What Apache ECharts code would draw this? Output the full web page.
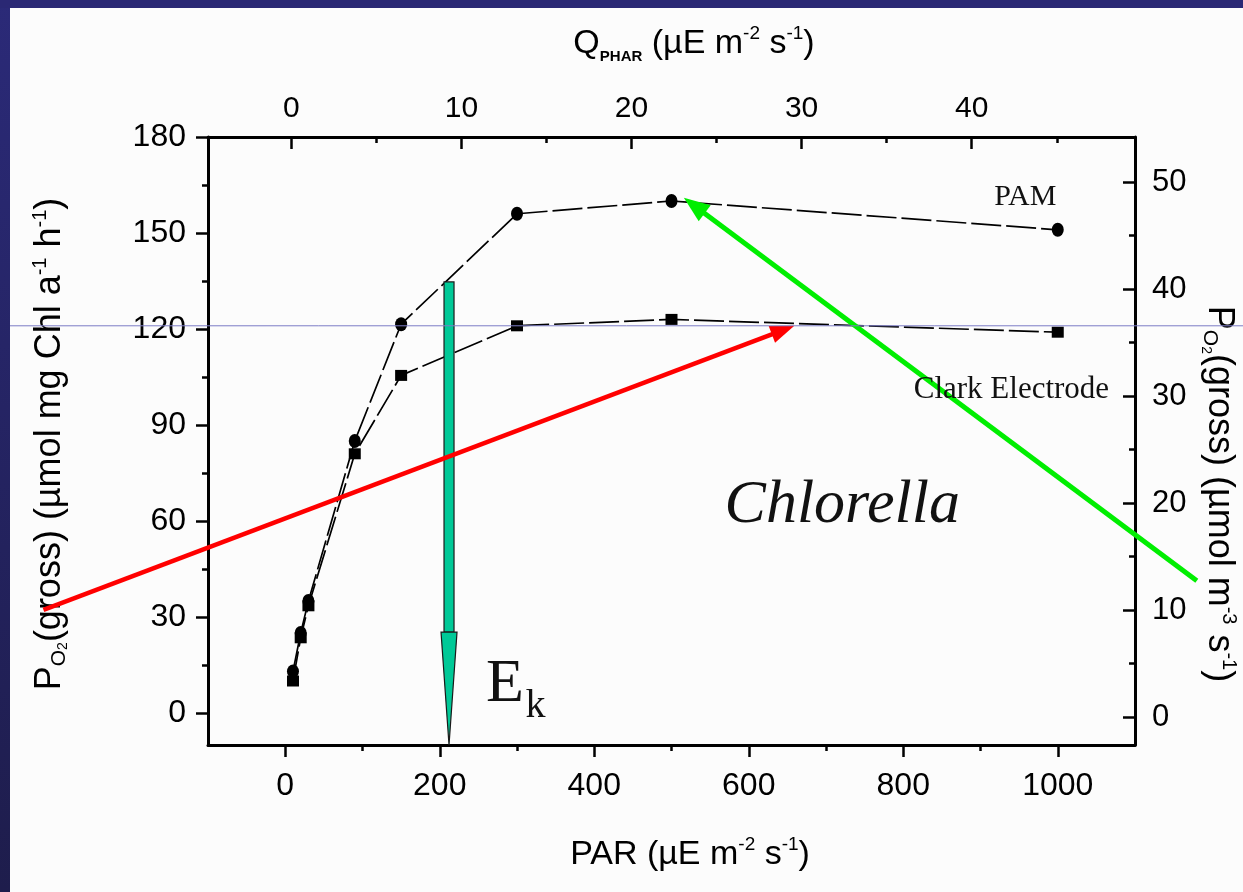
<!DOCTYPE html>
<html>
<head>
<meta charset="utf-8">
<script src="https://cdn.jsdelivr.net/npm/echarts@6/dist/echarts.min.js"></script>
<style>
html,body{margin:0;padding:0;background:#fcfcfc;}
#c{width:1243px;height:892px;}
</style>
</head>
<body>
<div id="c"></div>
<script>
// ---- data ----
const par = [10, 20, 30, 90, 150, 300, 500, 1000];
const pamValues = [13, 25, 35, 85, 121.5, 156, 160, 151];
const clarkValues = [10, 23.5, 33.5, 81, 105.5, 121, 123, 119];

const parTicks = [0, 200, 400, 600, 800, 1000];
const parMinorTicks = [100, 300, 500, 700, 900];
const qTicks = [0, 10, 20, 30, 40];
const qMinorTicks = [5, 15, 25, 35, 45];
const leftTicks = [0, 30, 60, 90, 120, 150, 180];
const leftMinorTicks = [15, 45, 75, 105, 135, 165];
const rightTicks = [0, 10, 20, 30, 40, 50];
const rightMinorTicks = [5, 15, 25, 35, 45];

// annotation anchors in data units (PAR, left axis)
const redArrow = [[-313, 32.2], [659, 121]];
const greenArrow = [[1180, 41.3], [516, 161]];
const ekArrow = {x: 212, top: 134.7, headBase: 25.3, tip: -10};
const guideLineValue = 121;
const pamLabelAt = [958, 161.3];
const clarkLabelAt = [940, 101];
const chlorellaLabelAt = [721, 64.7];
const ekLabelAt = [260, 8.9];
const ekSubAt = [311, 2.0];

const SANS = '"Liberation Sans", Arial, sans-serif';
const SERIF = '"Liberation Serif", "Times New Roman", serif';

function rich(fs) {
  return {
    t: {fontSize: fs, fontFamily: SANS, color: '#000', lineHeight: 40},
    sub: {fontSize: Math.round(fs * 0.58), fontFamily: SANS, color: '#000', lineHeight: 16, verticalAlign: 'bottom'},
    sub2: {fontSize: Math.round(fs * 0.38), fontFamily: SANS, color: '#000', lineHeight: 8, verticalAlign: 'bottom'},
    sup: {fontSize: Math.round(fs * 0.55), fontFamily: SANS, color: '#000', lineHeight: 18, verticalAlign: 'top'},
    subb: {fontSize: 15, fontWeight: 'bold', fontFamily: SANS, color: '#000', lineHeight: 12, verticalAlign: 'bottom'}
  };
}

const axisLine = {show: true, onZero: false, lineStyle: {color: '#000', width: 3}};
const hiddenLine = {show: false, onZero: false};
const tickStyle = {color: '#000', width: 2.5};
const fmt = v => String(v);
const labelStyle = {color: '#000', fontFamily: SANS, formatter: fmt};

const chart = echarts.init(document.getElementById('c'), null, {renderer: 'canvas'});

chart.setOption({
  animation: false,
  backgroundColor: '#fcfcfc',
  grid: {left: 208, right: 108, top: 137, bottom: 147, containLabel: false, outerBoundsMode: 'none'},
  xAxis: [
    {
      type: 'value', position: 'bottom', min: -100, max: 1100,
      axisLine: axisLine,
      axisTick: {show: true, inside: false, length: 12, lineStyle: tickStyle, customValues: parTicks},
      axisLabel: {show: true, margin: 25, fontSize: 32, ...labelStyle, customValues: parTicks},
      splitLine: {show: false},
      name: '{t|PAR (µE m}{sup|-2}{t| s}{sup|-1}{t|)}',
      nameLocation: 'middle', nameGap: 90,
      nameTextStyle: {rich: rich(34), padding: [0, 0, 0, 37]}
    },
    {
      type: 'value', position: 'top', min: -4.9, max: 49.6,
      axisLine: axisLine,
      axisTick: {show: true, inside: true, length: 12, lineStyle: tickStyle, customValues: qTicks},
      axisLabel: {show: true, margin: 13, fontSize: 30, ...labelStyle, customValues: qTicks},
      splitLine: {show: false},
      name: '{t|Q}{subb|PHAR}{t| (µE m}{sup|-2}{t| s}{sup|-1}{t|)}',
      nameLocation: 'middle', nameGap: 73,
      nameTextStyle: {rich: rich(34), padding: [0, 0, 0, 45]}
    },
    {
      type: 'value', position: 'bottom', min: -100, max: 1100,
      axisLine: hiddenLine,
      axisTick: {show: true, inside: false, length: 6, lineStyle: tickStyle, customValues: parMinorTicks},
      axisLabel: {show: false},
      splitLine: {show: false}
    },
    {
      type: 'value', position: 'top', min: -4.9, max: 49.6,
      axisLine: hiddenLine,
      axisTick: {show: true, inside: true, length: 6, lineStyle: tickStyle, customValues: qMinorTicks},
      axisLabel: {show: false},
      splitLine: {show: false}
    }
  ],
  yAxis: [
    {
      type: 'value', position: 'left', min: -10, max: 180,
      axisLine: axisLine,
      axisTick: {show: true, inside: false, length: 12, lineStyle: tickStyle, customValues: leftTicks},
      axisLabel: {show: true, margin: 22, fontSize: 32, ...labelStyle, customValues: leftTicks},
      splitLine: {show: false},
      name: '{t|P}{sub|O}{sub2|2}{t|(gross) (µmol mg Chl a}{sup|-1}{t| h}{sup|-1}{t|)}',
      nameLocation: 'middle', nameGap: 138, nameRotate: 90,
      nameTextStyle: {rich: rich(36), padding: [0, 6, 0, 0]}
    },
    {
      type: 'value', position: 'right', min: -2.6, max: 54.2,
      axisLine: axisLine,
      axisTick: {show: true, inside: true, length: 12, lineStyle: tickStyle, customValues: rightTicks},
      axisLabel: {show: true, margin: 17, fontSize: 31, ...labelStyle, customValues: rightTicks},
      splitLine: {show: false},
      name: '{t|P}{sub|O}{sub2|2}{t|(gross) (µmol m}{sup|-3}{t| s}{sup|-1}{t|)}',
      nameLocation: 'middle', nameGap: 64, nameRotate: -90,
      nameTextStyle: {rich: rich(36), padding: [0, 0, 0, 106]}
    },
    {
      type: 'value', position: 'left', min: -10, max: 180,
      axisLine: hiddenLine,
      axisTick: {show: true, inside: false, length: 6, lineStyle: tickStyle, customValues: leftMinorTicks},
      axisLabel: {show: false},
      splitLine: {show: false}
    },
    {
      type: 'value', position: 'right', min: -2.6, max: 54.2,
      axisLine: hiddenLine,
      axisTick: {show: true, inside: true, length: 6, lineStyle: tickStyle, customValues: rightMinorTicks},
      axisLabel: {show: false},
      splitLine: {show: false}
    }
  ],
  series: [
    {
      name: 'PAM', type: 'line', xAxisIndex: 0, yAxisIndex: 0,
      data: par.map((x, i) => [x, pamValues[i]]),
      symbol: 'circle', symbolSize: [12, 14],
      itemStyle: {color: '#000'},
      lineStyle: {color: '#000', width: 1.7, type: [30, 5]},
      z: 3
    },
    {
      name: 'Clark Electrode', type: 'line', xAxisIndex: 0, yAxisIndex: 0,
      data: par.map((x, i) => [x, clarkValues[i]]),
      symbol: 'rect', symbolSize: [12, 11],
      itemStyle: {color: '#000'},
      lineStyle: {color: '#000', width: 1.7, type: [30, 5]},
      z: 3
    }
  ]
});

function px(p) {
  return chart.convertToPixel({xAxisIndex: 0, yAxisIndex: 0}, p);
}

function arrowGraphics(from, to, color, width, headLen, headHalf) {
  const a = px(from), b = px(to);
  const dx = b[0] - a[0], dy = b[1] - a[1];
  const len = Math.sqrt(dx * dx + dy * dy);
  const ux = dx / len, uy = dy / len;
  const bx = b[0] - ux * headLen, by = b[1] - uy * headLen;
  const nx = -uy, ny = ux;
  return [
    {type: 'line', z: 100, shape: {x1: a[0], y1: a[1], x2: bx + ux * 2, y2: by + uy * 2},
      style: {stroke: color, lineWidth: width, lineCap: 'butt'}},
    {type: 'polygon', z: 100, shape: {points: [[b[0], b[1]], [bx + nx * headHalf, by + ny * headHalf], [bx - nx * headHalf, by - ny * headHalf]]},
      style: {fill: color}}
  ];
}

const W = 1243, H = 892;
const ekTop = px([ekArrow.x, ekArrow.top]);
const ekBase = px([ekArrow.x, ekArrow.headBase]);
const ekTip = px([ekArrow.x, ekArrow.tip]);
const guideY = px([0, guideLineValue])[1];
const teal = '#00c997';

const g = [];
// slide frame
g.push({type: 'rect', z: 200, shape: {x: 0, y: 0, width: 10, height: H},
  style: {fill: new echarts.graphic.LinearGradient(0, 0, 0, 1, [{offset: 0, color: '#2b2a78'}, {offset: 1, color: '#1e1d4c'}])}});
g.push({type: 'rect', z: 200, shape: {x: 0, y: 0, width: W, height: 8}, style: {fill: '#2a2874'}});
// thin guide line
g.push({type: 'line', z: 110, shape: {x1: 10, y1: guideY, x2: W, y2: guideY}, style: {stroke: '#7c7cc6', lineWidth: 1}});
// Ek arrow
g.push({type: 'rect', z: 100, shape: {x: ekTop[0] - 5, y: ekTop[1], width: 10, height: ekBase[1] - ekTop[1]},
  style: {fill: teal, stroke: '#1a1a1a', lineWidth: 1.2}});
g.push({type: 'polygon', z: 101, shape: {points: [[ekBase[0] - 8, ekBase[1]], [ekBase[0] + 8, ekBase[1]], [ekTip[0], ekTip[1]]]},
  style: {fill: teal, stroke: '#1a1a1a', lineWidth: 1.2}});
// red & green arrows
g.push(...arrowGraphics(redArrow[0], redArrow[1], '#ff0000', 4.5, 24, 9));
g.push(...arrowGraphics(greenArrow[0], greenArrow[1], '#00ee00', 5, 26, 10));
// text labels
function textAt(p, text, font) {
  const q = px(p);
  return {type: 'text', z: 120, x: q[0], y: q[1], style: Object.assign({text: text, fill: '#111'}, font)};
}
g.push(textAt(pamLabelAt, 'PAM', {fontFamily: SERIF, fontSize: 30, align: 'center', verticalAlign: 'middle'}));
g.push(textAt(clarkLabelAt, 'Clark Electrode', {fontFamily: SERIF, fontSize: 31, align: 'center', verticalAlign: 'middle'}));
g.push(textAt(chlorellaLabelAt, 'Chlorella', {fontFamily: SERIF, fontSize: 62, fontStyle: 'italic', align: 'center', verticalAlign: 'middle'}));
g.push(textAt(ekLabelAt, 'E', {fontFamily: SERIF, fontSize: 62, align: 'left', verticalAlign: 'middle'}));
g.push(textAt(ekSubAt, 'k', {fontFamily: SERIF, fontSize: 40, align: 'left', verticalAlign: 'middle'}));

chart.setOption({graphic: g});
</script>
</body>
</html>
